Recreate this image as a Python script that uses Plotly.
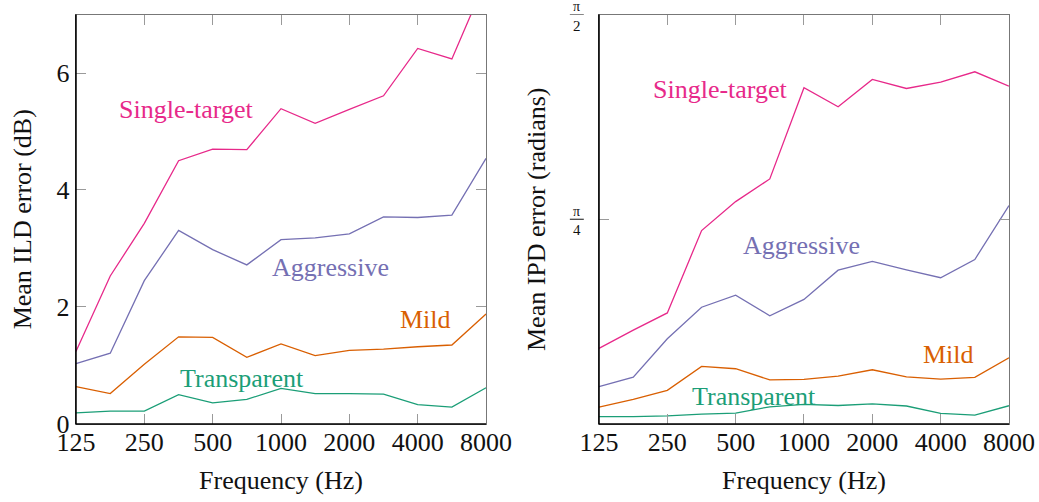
import math
import plotly.graph_objects as go
from plotly.subplots import make_subplots

# Half-octave band centre frequencies (Hz)
freqs = [125, 177, 250, 354, 500, 707, 1000, 1414, 2000, 2828, 4000, 5657, 8000]
x_tick_vals = [125, 250, 500, 1000, 2000, 4000, 8000]
x_tick_text = ["125", "250", "500", "1000", "2000", "4000", "8000"]

# Mean ILD error (dB)
ild_single = [1.24, 2.53, 3.43, 4.50, 4.70, 4.69, 5.39, 5.14, 5.38, 5.61, 6.42, 6.24, 7.6]
ild_aggressive = [1.03, 1.21, 2.45, 3.31, 2.98, 2.72, 3.15, 3.18, 3.25, 3.54, 3.53, 3.57, 4.54]
ild_mild = [0.64, 0.52, 1.02, 1.49, 1.48, 1.14, 1.37, 1.17, 1.26, 1.28, 1.32, 1.35, 1.88]
ild_transparent = [0.19, 0.22, 0.22, 0.50, 0.36, 0.42, 0.61, 0.52, 0.52, 0.51, 0.33, 0.29, 0.62]

# Mean IPD error (radians)
ipd_single = [0.290, 0.360, 0.426, 0.742, 0.853, 0.940, 1.290, 1.217, 1.322, 1.287, 1.311, 1.351, 1.296]
ipd_aggressive = [0.143, 0.180, 0.327, 0.448, 0.494, 0.415, 0.478, 0.590, 0.624, 0.591, 0.561, 0.631, 0.838]
ipd_mild = [0.065, 0.094, 0.129, 0.221, 0.212, 0.169, 0.171, 0.184, 0.208, 0.181, 0.172, 0.179, 0.254]
ipd_transparent = [0.028, 0.028, 0.031, 0.038, 0.042, 0.066, 0.075, 0.071, 0.077, 0.069, 0.041, 0.034, 0.070]

# IPD ticks as fractions of pi
ipd_tick_vals = [math.pi / 4, math.pi / 2]
ipd_tick_denoms = ["4", "2"]

series_names = ["Single-target", "Aggressive", "Mild", "Transparent"]
colors = ["#e7298a", "#7570b3", "#d95f02", "#1b9e77"]

# Inline label anchor positions (frequency, value) per panel
ild_label_pos = [(385, 5.38), (1644, 2.67), (4351, 1.78), (674, 0.78)]
ipd_label_pos = [(427, 1.285), (980, 0.683), (4312, 0.266), (602, 0.105)]

FONT = "Liberation Serif"
FS = 26
BLACK = "#111111"

fig = make_subplots(rows=1, cols=2)

ild_sets = [ild_single, ild_aggressive, ild_mild, ild_transparent]
ipd_sets = [ipd_single, ipd_aggressive, ipd_mild, ipd_transparent]

for name, col, ys in zip(series_names, colors, ild_sets):
    fig.add_trace(go.Scatter(x=freqs, y=ys, mode="lines", name=name,
                             line=dict(color=col, width=1.3), showlegend=False),
                  row=1, col=1)
for name, col, ys in zip(series_names, colors, ipd_sets):
    fig.add_trace(go.Scatter(x=freqs, y=ys, mode="lines", name=name,
                             line=dict(color=col, width=1.3), showlegend=False),
                  row=1, col=2)

for (fx, fy), name, col in zip(ild_label_pos, series_names, colors):
    fig.add_annotation(x=math.log10(fx), y=fy, xref="x", yref="y", text=name,
                       showarrow=False, font=dict(family=FONT, size=FS, color=col))
for (fx, fy), name, col in zip(ipd_label_pos, series_names, colors):
    fig.add_annotation(x=math.log10(fx), y=fy, xref="x2", yref="y2", text=name,
                       showarrow=False, font=dict(family=FONT, size=FS, color=col))

x_common = dict(type="log", range=[math.log10(125), math.log10(8000)],
                tickvals=x_tick_vals, ticktext=x_tick_text,
                ticks="inside", ticklen=10, tickcolor="#9a9a9a", tickwidth=1.3,
                showline=True, linecolor="#777777", linewidth=1.3, mirror="ticks",
                showgrid=False, zeroline=False, automargin=False,
                ticklabelstandoff=-5,
                tickfont=dict(family=FONT, size=FS, color=BLACK),
                title=dict(text="Frequency (Hz)", font=dict(family=FONT, size=FS, color=BLACK),
                           standoff=14))

fig.update_xaxes(domain=[0.0731, 0.4678], **x_common, row=1, col=1)
fig.update_xaxes(domain=[0.5765, 0.9711], **x_common, row=1, col=2)

y_common = dict(ticks="inside", ticklen=10, tickcolor="#9a9a9a", tickwidth=1.3,
                showline=True, linecolor="#777777", linewidth=1.3, mirror="ticks",
                showgrid=False, zeroline=False, domain=[0.1554, 0.9711], automargin=False,
                tickfont=dict(family=FONT, size=FS, color=BLACK))

fig.update_yaxes(range=[0, 7], tickvals=[0, 2, 4, 6], ticktext=["0", "2", "4", "6"],
                 title=dict(text="Mean ILD error (dB)",
                            font=dict(family=FONT, size=FS, color=BLACK), standoff=17),
                 **y_common, row=1, col=1)

fig.update_yaxes(range=[0, math.pi / 2], tickvals=ipd_tick_vals, showticklabels=False,
                 title=dict(text="Mean IPD error (radians)",
                            font=dict(family=FONT, size=FS, color=BLACK), standoff=44),
                 **y_common, row=1, col=2)

# Fraction tick labels (pi over n) for the IPD axis
for v, d in zip(ipd_tick_vals, ipd_tick_denoms):
    fig.add_annotation(x=-0.054, y=v, xref="x2 domain", yref="y2", text="π",
                       showarrow=False, xanchor="center", yanchor="bottom", yshift=-1.5,
                       font=dict(family=FONT, size=14, color=BLACK))
    fig.add_annotation(x=-0.054, y=v, xref="x2 domain", yref="y2", text=d,
                       showarrow=False, xanchor="center", yanchor="top", yshift=-1,
                       font=dict(family=FONT, size=15, color=BLACK))
    fig.add_shape(type="line", xref="x2 domain", yref="y2", x0=-0.071, x1=-0.037,
                  y0=v, y1=v, line=dict(color=BLACK, width=1))

# Solid black left and bottom frame edges
for xd, yd in [("x domain", "y domain"), ("x2 domain", "y2 domain")]:
    fig.add_shape(type="line", xref=xd, yref=yd, x0=0, x1=0, y0=0, y1=1,
                  line=dict(color="black", width=1.6))
    fig.add_shape(type="line", xref=xd, yref=yd, x0=0, x1=1, y0=0, y1=0,
                  line=dict(color="black", width=1.6))

fig.update_layout(width=1039, height=502, margin=dict(l=0, r=0, t=0, b=0),
                  plot_bgcolor="white", paper_bgcolor="white",
                  font=dict(family=FONT, size=FS, color=BLACK))

fig.write_html("out.html")
